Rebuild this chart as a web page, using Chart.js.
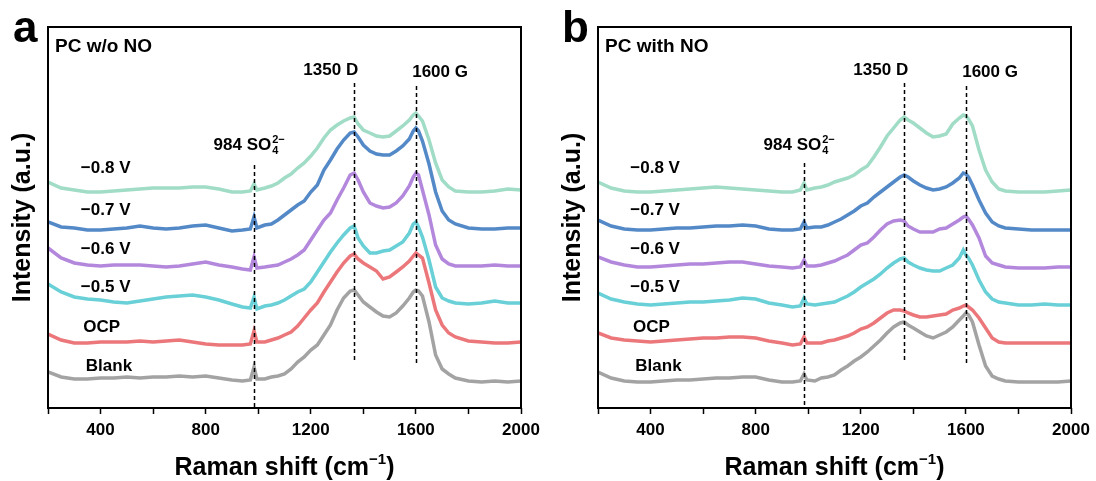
<!DOCTYPE html>
<html>
<head>
<meta charset="utf-8">
<script src="https://cdn.jsdelivr.net/npm/chart.js@4/dist/chart.umd.min.js"></script>
<style>
  html, body { margin: 0; padding: 0; background: #fff; }
  #wrap { position: relative; width: 1096px; height: 481px; }
  .panel { position: absolute; top: 0; width: 548px; height: 481px; }
</style>
</head>
<body>
<div id="wrap">
  <div class="panel" style="left:0"><canvas id="chartA" width="548" height="481"></canvas></div>
  <div class="panel" style="left:548px"><canvas id="chartB" width="548" height="481"></canvas></div>
</div>
<script>
// Raman shift (cm-1), shared by every spectrum
const shift = [200,250,300,350,400,450,500,550,600,650,700,750,800,850,900,940,970,984,995,1025,1050,1075,1100,1125,1150,1175,1200,1225,1250,1275,1300,1325,1350,1365,1380,1400,1425,1450,1475,1500,1525,1550,1575,1590,1600,1610,1625,1650,1675,1700,1725,1750,1800,1850,1900,1950,2000];

const seriesNames = ['Blank', 'OCP', '\u22120.5 V', '\u22120.6 V', '\u22120.7 V', '\u22120.8 V'];
const seriesColors = ['#a3a3a3', '#eb777b', '#68d0d6', '#b388dc', '#5489c8', '#a0dcc6'];

// panel a: PC w/o NO (stacked, offsets included)
const aBlank = [36,31,29,29,30,30,31,30,31,31,32,31,32,30,28,27,28,41,29,29,31,32,34,39,46,51,58,63,73,83,98,110,117,118,113,106,101,96,92,91,95,102,110,116,118,117,112,86,53,39,34,30,27,26,27,26,27];
const aOCP   = [74,68,65,65,66,66,66,67,66,67,68,66,64,63,63,63,64,77,66,66,68,70,73,76,82,90,98,105,116,126,136,145,152,154,149,145,141,137,129,131,136,141,147,152,155,153,150,125,98,83,75,71,67,66,65,65,66];
const aV05   = [124,116,111,109,108,106,105,107,109,111,112,113,111,108,104,101,100,111,99,102,103,105,108,112,116,119,126,136,146,156,165,173,180,182,170,162,155,155,157,158,162,166,175,184,186,181,171,148,121,110,107,105,104,105,107,105,105];
const aV06   = [160,150,145,143,142,143,143,143,142,141,142,144,146,143,141,139,138,151,140,141,142,143,146,149,153,158,168,178,188,195,208,220,233,235,228,216,205,202,200,201,205,212,222,231,235,233,218,193,163,149,144,142,142,142,143,142,142];
const aV07   = [186,181,180,178,178,179,180,182,180,179,180,182,183,180,177,178,179,191,180,183,184,188,193,198,203,207,216,223,238,248,259,268,275,276,271,263,257,254,253,253,257,262,269,277,280,277,267,244,216,197,188,184,180,179,179,180,180];
const aV08   = [226,220,218,216,216,217,218,219,220,220,220,221,221,219,216,216,217,224,218,220,222,225,230,234,240,245,252,260,270,278,283,287,290,291,284,278,275,272,271,272,277,282,288,293,295,292,287,268,245,228,221,217,216,216,217,219,218];

// panel b: PC with NO
const bBlank = [36,30,27,26,26,27,28,28,29,30,30,31,31,28,26,26,27,34,28,27,30,31,33,38,42,47,51,56,62,68,75,81,85,86,83,80,76,72,70,73,76,81,88,92,95,93,86,63,42,32,29,27,26,26,26,26,27];
const bOCP   = [75,70,68,67,66,67,68,69,70,70,71,71,70,67,65,63,64,71,65,65,65,67,68,70,72,75,79,81,85,90,95,98,98,97,95,93,91,91,92,93,94,98,100,102,103,101,98,90,80,70,66,65,65,65,65,65,65];
const bV05   = [115,109,106,104,103,104,105,106,106,107,108,110,109,105,103,101,102,110,104,103,104,105,106,109,112,116,121,125,129,134,140,145,149,150,146,143,140,138,137,137,140,143,150,158,153,150,143,128,116,109,106,105,103,103,104,103,103];
const bV06   = [151,146,143,141,141,142,143,144,144,145,146,146,144,142,141,140,141,148,142,142,143,145,147,150,153,158,163,165,171,178,184,187,188,187,182,179,176,176,176,179,180,184,188,191,192,189,183,170,152,145,143,141,140,140,140,141,141];
const bV07   = [188,182,179,178,178,179,180,180,181,182,182,183,182,179,178,178,179,186,180,181,181,183,186,189,193,197,202,205,211,216,221,226,231,233,231,227,223,220,218,219,221,225,230,235,234,231,223,208,195,186,182,180,179,178,178,178,178];
const bV08   = [226,220,217,216,216,217,218,219,220,221,220,219,218,217,216,216,218,225,218,220,221,223,226,228,230,233,238,242,251,261,272,280,288,291,288,285,280,275,271,272,274,284,290,293,292,289,282,258,238,226,219,217,216,216,216,217,218];

const xTicks = [200,400,600,800,1000,1200,1400,1600,1800,2000];

// dashed guide lines (shift, top, bottom in intensity units)
const markerShift = [984, 1365, 1600];
const aMarkerTop = [243, 325, 322], aMarkerBottom = [0, 46, 43];
const bMarkerTop = [245, 325, 322], bMarkerBottom = [0, 48, 45];

// where the curve names sit
const aLabelShift = [344, 334, 325, 325, 325, 325];
const bLabelShift = [342, 333, 323, 323, 323, 323];
const labelLevel = [37, 76, 116, 154, 193, 235];

const FONT = '"Liberation Sans", Arial, Helvetica, sans-serif';

const decor = {
  id: 'decor',
  afterDraw(chart, args, o) {
    const { ctx, chartArea: ca, scales: { x, y } } = chart;
    ctx.save();

    // frame
    ctx.strokeStyle = '#000';
    ctx.lineWidth = 2;
    ctx.strokeRect(ca.left, ca.top, ca.right - ca.left, ca.bottom - ca.top);

    // dashed lines
    ctx.lineWidth = 1.5;
    ctx.setLineDash([4, 3]);
    markerShift.forEach((s, i) => {
      const px = Math.round(x.getPixelForValue(s)) + 0.5;
      ctx.beginPath();
      ctx.moveTo(px, y.getPixelForValue(o.markerTop[i]));
      ctx.lineTo(px, y.getPixelForValue(o.markerBottom[i]));
      ctx.stroke();
    });
    ctx.setLineDash([]);

    ctx.fillStyle = '#000';
    ctx.textBaseline = 'alphabetic';

    // panel letter + heading
    ctx.font = 'bold 44px ' + FONT;
    ctx.textAlign = 'left';
    ctx.fillText(o.letter, o.letterX, 42);
    ctx.font = 'bold 19px ' + FONT;
    ctx.fillText(o.heading, ca.left + 7, 52);

    // curve names
    ctx.font = 'bold 17px ' + FONT;
    seriesNames.forEach((n, i) => {
      ctx.fillText(n, x.getPixelForValue(o.labelShift[i]), y.getPixelForValue(labelLevel[i]));
    });

    // peak labels
    ctx.textAlign = 'center';
    ctx.fillText('1350 D', x.getPixelForValue(1276), y.getPixelForValue(333));
    ctx.fillText('1600 G', x.getPixelForValue(1692), y.getPixelForValue(331));

    ctx.textAlign = 'left';
    const sx = x.getPixelForValue(830), sy = y.getPixelForValue(258);
    ctx.fillText('984 SO', sx, sy);
    const w = ctx.measureText('984 SO').width;
    ctx.font = 'bold 11px ' + FONT;
    ctx.fillText('2\u2212', sx + w + 1, sy - 7);
    ctx.fillText('4', sx + w + 1, sy + 4);

    // x axis title with superscript
    const t1 = 'Raman shift (cm', t3 = ')';
    ctx.font = 'bold 15px ' + FONT;
    const w2 = ctx.measureText('\u22121').width;
    ctx.font = 'bold 25px ' + FONT;
    const w1 = ctx.measureText(t1).width, w3 = ctx.measureText(t3).width;
    const tx = (ca.left + ca.right) / 2 - (w1 + w2 + w3) / 2;
    const ty = 475;
    ctx.fillText(t1, tx, ty);
    ctx.font = 'bold 15px ' + FONT;
    ctx.fillText('\u22121', tx + w1, ty - 11);
    ctx.font = 'bold 25px ' + FONT;
    ctx.fillText(t3, tx + w1 + w2, ty);

    ctx.restore();
  }
};

function makeChart(id, series, d) {
  const datasets = series.map((arr, i) => ({
    label: seriesNames[i],
    data: shift.map((s, k) => ({ x: s, y: arr[k] })),
    borderColor: seriesColors[i],
    borderWidth: 3.5,
    pointRadius: 0,
    tension: 0,
    fill: false
  }));

  return new Chart(document.getElementById(id), {
    type: 'line',
    data: { datasets },
    plugins: [decor],
    options: {
      responsive: false,
      animation: false,
      layout: { padding: { top: 27, right: d.padRight, left: 0, bottom: 0 } },
      plugins: {
        legend: { display: false },
        tooltip: { enabled: false },
        decor: d
      },
      scales: {
        x: {
          type: 'linear',
          min: 200,
          max: 2000,
          afterBuildTicks: s => { s.ticks = xTicks.map(v => ({ value: v })); },
          afterFit: s => { s.height = 73; },
          border: { display: false },
          grid: { drawOnChartArea: false, tickLength: 6, tickWidth: 1.5, tickColor: '#000' },
          ticks: {
            autoSkip: false,
            maxRotation: 0,
            padding: 6,
            color: '#000',
            font: { family: FONT, size: 17, weight: 'bold' },
            callback: v => (v % 400 === 0 ? String(v) : '')
          }
        },
        y: {
          min: 0,
          max: 381,
          afterFit: s => { s.width = d.axisWidth; },
          border: { display: false },
          grid: { display: false },
          ticks: { display: false },
          title: {
            display: true,
            text: 'Intensity (a.u.)',
            color: '#000',
            font: { family: FONT, size: 25, weight: 'bold' },
            padding: { top: d.titlePad, bottom: 0 }
          }
        }
      }
    }
  });
}

makeChart('chartA', [aBlank, aOCP, aV05, aV06, aV07, aV08], {
  letter: 'a', letterX: 13, heading: 'PC w/o NO', padRight: 27, axisWidth: 48, titlePad: 8,
  markerTop: aMarkerTop, markerBottom: aMarkerBottom, labelShift: aLabelShift
});
makeChart('chartB', [bBlank, bOCP, bV05, bV06, bV07, bV08], {
  letter: 'b', letterX: 14, heading: 'PC with NO', padRight: 25, axisWidth: 50, titlePad: 10,
  markerTop: bMarkerTop, markerBottom: bMarkerBottom, labelShift: bLabelShift
});
</script>
</body>
</html>
